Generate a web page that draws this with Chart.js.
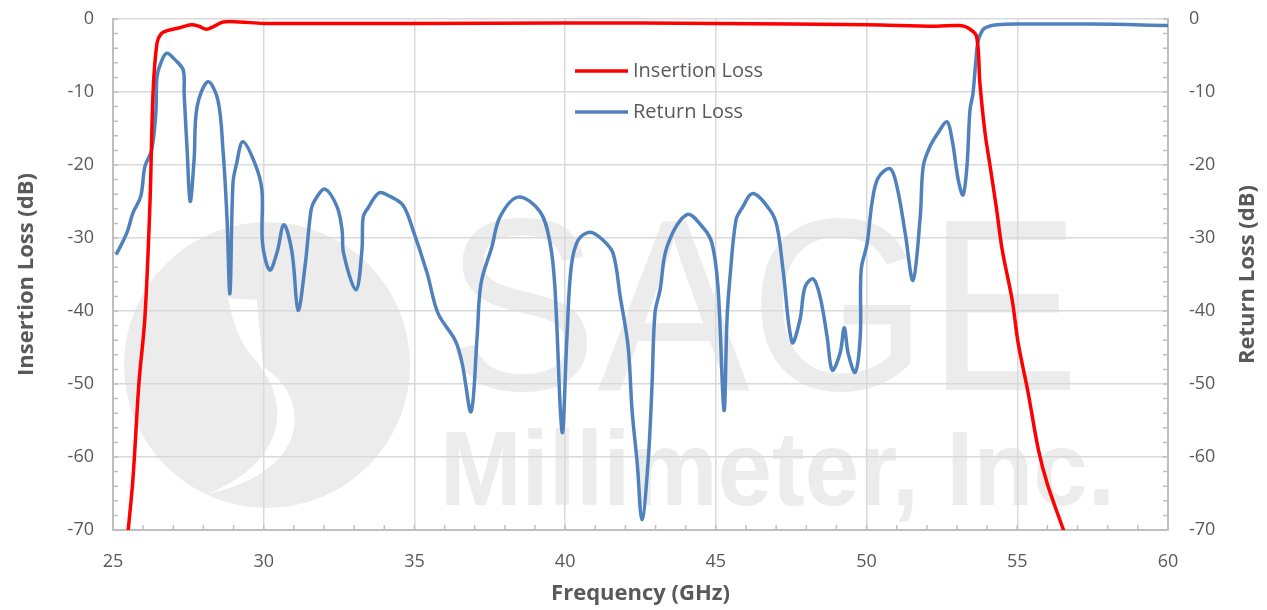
<!DOCTYPE html>
<html>
<head>
<meta charset="utf-8">
<script src="https://cdn.jsdelivr.net/npm/chart.js@4.4.1/dist/chart.umd.min.js"></script>
<style>
  html, body { margin: 0; padding: 0; background: #ffffff; }
  #wrap { width: 1267px; height: 610px; }
</style>
</head>
<body>
<div id="wrap"><canvas id="filterChart" width="1267" height="610"></canvas></div>
<script>
// x axis ticks (GHz) and y axis ticks (dB)
const freqTicks = [25, 30, 35, 40, 45, 50, 55, 60];
const dbTicks = [0, -10, -20, -30, -40, -50, -60, -70];

// Insertion loss
const ilFreq = [25.50, 25.66, 25.86, 26.06, 26.23, 26.33, 26.46, 26.60, 26.80, 27.20, 27.60, 27.85, 28.10, 28.35, 28.65, 29.20,
    30.0, 35.0, 40.0, 45.0, 50.0, 52.3, 53.1, 53.4, 53.65, 53.76, 53.93, 54.10, 54.30, 54.50, 54.83, 55.03, 55.36, 55.70, 55.99, 56.55];
const ilDb = [-70.2, -63.1, -49.9, -40.8, -24.8, -10.0, -3.3, -2.0, -1.6, -1.2, -0.8, -1.0, -1.4, -1.0, -0.4, -0.4,
    -0.6, -0.6, -0.55, -0.6, -0.8, -1.0, -0.9, -1.3, -2.4, -8.8, -15.6, -20.2, -25.7, -31.6, -38.5, -44.4, -51.2, -59.0, -63.6, -70.2];

// Return loss
const rlFreq = [25.13, 25.46, 25.66, 25.92, 26.06, 26.28, 26.42, 26.46, 26.58, 26.78, 27.06, 27.33, 27.36, 27.46, 27.56, 27.69, 27.79,
    28.15, 28.48, 28.65, 28.78, 28.88, 28.98, 29.10, 29.31, 29.71, 29.94, 29.96, 30.20, 30.44, 30.67, 30.94, 31.14, 31.37, 31.57,
    31.70, 32.03, 32.43, 32.60, 32.65, 33.06, 33.26, 33.30, 33.46, 33.83, 34.19, 34.62, 34.92, 35.42, 35.78, 36.35, 36.58, 36.88,
    37.08, 37.21, 37.57, 37.84, 38.44, 39.17, 39.50, 39.66, 39.90, 40.06, 40.20, 40.43, 40.83, 41.26, 41.59, 41.83, 42.09, 42.22,
    42.39, 42.55, 42.75, 42.88, 42.98, 43.15, 43.38, 44.04, 44.58, 44.87, 45.07, 45.27, 45.37, 45.47, 45.67, 45.87, 46.23, 46.80,
    47.03, 47.23, 47.53, 47.79, 47.96, 48.23, 48.46, 48.69, 48.86, 49.12, 49.26, 49.39, 49.62, 49.79, 49.82, 50.02, 50.18, 50.38,
    50.78, 51.01, 51.28, 51.54, 51.78, 51.88, 52.10, 52.37, 52.67, 52.84, 53.04, 53.20, 53.33, 53.43, 53.53, 53.62, 53.70, 53.85,
    53.99, 54.33, 55.00, 57.50, 60.00];
const rlDb = [-32.1, -29.3, -26.6, -24.3, -20.2, -18.0, -12.9, -7.9, -6.1, -4.7, -5.6, -7.0, -10.2, -18.0, -25.0, -19.3, -12.0,
    -8.6, -11.1, -18.0, -27.1, -37.6, -22.5, -19.8, -16.8, -19.8, -23.4, -30.7, -34.4, -32.0, -28.2, -32.0, -39.9, -33.9, -26.2,
    -24.8, -23.3, -25.7, -28.9, -32.1, -37.1, -31.6, -27.1, -25.9, -23.8, -24.3, -25.5, -28.5, -34.8, -40.3, -44.0, -47.1, -53.8,
    -43.5, -36.2, -31.2, -27.1, -24.4, -26.4, -30.7, -36.7, -56.6, -43.5, -34.0, -30.3, -29.2, -30.3, -32.1, -38.1, -44.9, -53.6,
    -60.8, -68.6, -60.8, -50.4, -40.3, -37.1, -31.2, -26.8, -28.6, -30.7, -36.7, -53.6, -41.2, -35.3, -27.5, -25.9, -23.9, -26.2,
    -28.4, -34.4, -44.3, -41.2, -36.7, -35.6, -38.1, -43.5, -48.1, -45.8, -42.3, -45.8, -48.4, -43.5, -34.4, -30.7, -25.2, -21.8,
    -20.5, -23.0, -29.3, -35.8, -27.1, -20.2, -17.5, -15.6, -14.1, -16.6, -22.0, -24.1, -20.2, -12.5, -10.2, -6.0, -3.0, -1.5,
    -1.1, -0.8, -0.7, -0.7, -0.9];

const textColor = '#595959';
const gridColor = '#d9d9d9';
const axisColor = '#bfbfbf';

const toPoints = function (xs, ys) {
    return xs.map(function (x, i) { return { x: x, y: ys[i] }; });
};

// faint company watermark behind the grid
const watermark = {
    id: 'watermark',
    beforeDraw: function (chart) {
        const ctx = chart.ctx;
        ctx.save();
        ctx.fillStyle = '#ececec';
        ctx.beginPath();
        ctx.arc(267, 365, 143, 0, Math.PI * 2);
        ctx.fill();
        ctx.fillStyle = '#ffffff';
        ctx.beginPath();
        ctx.moveTo(228, 298);
        ctx.quadraticCurveTo(236, 345, 263, 368);
        ctx.lineTo(257, 300);
        ctx.closePath();
        ctx.fill();
        ctx.beginPath();
        ctx.moveTo(258, 364);
        ctx.bezierCurveTo(310, 390, 318, 470, 208, 494);
        ctx.bezierCurveTo(285, 462, 292, 405, 258, 364);
        ctx.fill();

        ctx.fillStyle = '#ececec';
        ctx.textBaseline = 'alphabetic';
        ctx.font = '245px "Liberation Sans"';
        var w = ctx.measureText('SAGE').width;
        ctx.save();
        ctx.translate(445, 390);
        ctx.scale(635 / w, 1);
        ctx.fillText('SAGE', 0, 0);
        ctx.restore();
        ctx.font = 'bold 105px "Liberation Sans"';
        w = ctx.measureText('Millimeter, Inc.').width;
        ctx.translate(440, 505);
        ctx.scale(675 / w, 1);
        ctx.fillText('Millimeter, Inc.', 0, 0);
        ctx.restore();
    }
};

// small inward tick marks like the Excel original
const minorTicks = {
    id: 'minorTicks',
    beforeDatasetsDraw: function (chart) {
        const ctx = chart.ctx;
        const x = chart.scales.x, y = chart.scales.y;
        const area = chart.chartArea;
        ctx.save();
        ctx.strokeStyle = axisColor;
        ctx.lineWidth = 1.5;
        ctx.beginPath();
        for (var f = freqTicks[0]; f <= freqTicks[freqTicks.length - 1]; f++) {
            var px = x.getPixelForValue(f);
            ctx.moveTo(px, area.bottom);
            ctx.lineTo(px, area.bottom - 5);
        }
        for (var d = dbTicks[dbTicks.length - 1]; d <= dbTicks[0]; d += 2) {
            var py = y.getPixelForValue(d);
            ctx.moveTo(area.left, py);
            ctx.lineTo(area.left + 5, py);
            ctx.moveTo(area.right, py);
            ctx.lineTo(area.right - 5, py);
        }
        ctx.stroke();
        ctx.restore();
    }
};

// legend inside the plot, and the right axis title read upwards
const overlay = {
    id: 'overlay',
    afterDraw: function (chart) {
        const ctx = chart.ctx;
        ctx.save();
        ctx.font = '20px "Open Sans"';
        ctx.textBaseline = 'middle';
        ctx.textAlign = 'left';
        chart.data.datasets.forEach(function (ds, i) {
            var ly = 71 + i * 41;
            ctx.strokeStyle = ds.borderColor;
            ctx.lineWidth = 3.5;
            ctx.beginPath();
            ctx.moveTo(575, ly);
            ctx.lineTo(628, ly);
            ctx.stroke();
            ctx.fillStyle = textColor;
            ctx.fillText(ds.label, 633, ly);
        });
        ctx.font = 'bold 22px "Open Sans"';
        ctx.textAlign = 'center';
        ctx.translate(1248, (chart.chartArea.top + chart.chartArea.bottom) / 2);
        ctx.rotate(-Math.PI / 2);
        ctx.fillText('Return Loss (dB)', 0, 0);
        ctx.restore();
    }
};

const yAxis = function (pos, width, showGrid) {
    return {
        type: 'linear',
        position: pos,
        min: dbTicks[dbTicks.length - 1],
        max: dbTicks[0],
        afterBuildTicks: function (scale) {
            scale.ticks = dbTicks.map(function (v) { return { value: v }; });
        },
        afterFit: function (scale) {
            scale.width = width;
            // labels may hang over the top, keep the plot where Excel put it
            scale.paddingTop = 0;
            scale.paddingBottom = 0;
        },
        ticks: { color: textColor, font: { family: 'Open Sans', size: 18 }, padding: pos === 'left' ? 19 : 21 },
        grid: { display: true, drawOnChartArea: showGrid, drawTicks: false, color: gridColor, lineWidth: 1.5 },
        border: { color: axisColor, width: 2 },
        title: {
            display: pos === 'left',
            text: 'Insertion Loss (dB)',
            color: textColor,
            font: { family: 'Open Sans', size: 22, weight: 'bold' },
            padding: { top: 14, bottom: 0 }
        }
    };
};

const ctx = document.getElementById('filterChart').getContext('2d');
new Chart(ctx, {
    type: 'line',
    data: {
        datasets: [
            {
                label: 'Insertion Loss',
                data: toPoints(ilFreq, ilDb),
                borderColor: '#ff0000',
                borderWidth: 3.5,
                yAxisID: 'y'
            },
            {
                label: 'Return Loss',
                data: toPoints(rlFreq, rlDb),
                borderColor: '#4f81bd',
                borderWidth: 3.5,
                yAxisID: 'y2'
            }
        ]
    },
    options: {
        responsive: false,
        animation: false,
        layout: { padding: { top: 19, left: 0, right: 0, bottom: 0 } },
        elements: {
            point: { radius: 0 },
            line: { tension: 0.35, fill: false, borderCapStyle: 'round', borderJoinStyle: 'round' }
        },
        plugins: { legend: { display: false }, tooltip: { enabled: false } },
        scales: {
            x: {
                type: 'linear',
                min: freqTicks[0],
                max: freqTicks[freqTicks.length - 1],
                afterBuildTicks: function (scale) {
                    scale.ticks = freqTicks.map(function (v) { return { value: v }; });
                },
                afterFit: function (scale) { scale.height = 80; },
                ticks: { color: textColor, font: { family: 'Open Sans', size: 18 }, padding: 21, maxRotation: 0 },
                grid: { color: gridColor, lineWidth: 1.5, drawTicks: false },
                border: { color: axisColor, width: 2 },
                title: {
                    display: true,
                    text: 'Frequency (GHz)',
                    color: textColor,
                    font: { family: 'Open Sans', size: 22, weight: 'bold' },
                    padding: { top: 0, bottom: 3 }
                }
            },
            y: yAxis('left', 113, true),
            y2: yAxis('right', 99, false)
        }
    },
    plugins: [watermark, minorTicks, overlay]
});
</script>
</body>
</html>
